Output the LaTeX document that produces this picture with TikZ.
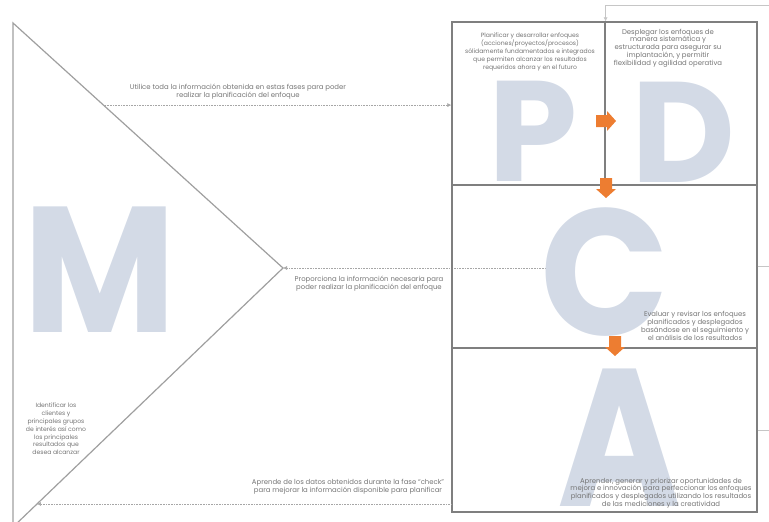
\documentclass[tikz,border=0pt]{standalone}
\usepackage{fontspec}
\setmainfont{Poppins}
\usetikzlibrary{arrows.meta, positioning, calc}

\definecolor{lettergray}{HTML}{D3DAE6}
\definecolor{pdcaorange}{HTML}{ED7D31}
\definecolor{framegray}{HTML}{7F7F7F}
\definecolor{textgray}{HTML}{747474}

\begin{document}
\begin{tikzpicture}[
    x=1pt, y=-1pt,
    stagebox/.style={rectangle, draw=framegray, line width=1.2pt, inner sep=0pt},
    bigletter/.style={text=lettergray, font=\fontsize{#1}{#1}\selectfont\bfseries, inner sep=0pt},
    note/.style={align=center, text=textgray, font=\fontsize{6.9}{7.8}\selectfont, inner sep=0pt},
    smallnote/.style={note, font=\fontsize{6.1}{7.8}\selectfont},
    flow/.style={densely dotted, draw=gray!70, line width=0.6pt, -{Latex[length=4pt, width=4pt]}},
    feed/.style={draw=gray!45, line width=0.6pt},
    orangearrow/.pic={\fill[pdcaorange] (-10,-6) -- (1,-6) -- (1,-10) -- (10,0) -- (1,10) -- (1,6) -- (-10,6) -- cycle;},
]
\clip (0,0) rectangle (769,522);

% ===== TRIANGLE (M) =====
\coordinate (tritop) at (13,23);
\coordinate (apex) at (283,268);
\coordinate (tribot) at (13,527);
\node[bigletter=179] (mletter) at (100,270) {\scalebox{0.93}[1]{M}};
\draw[draw=gray!75, line width=1.2pt] (tritop) -- (apex) -- (tribot) -- cycle;

% ===== PDCA LETTERS =====
\node[bigletter=143] (pletter) at (533,131) {P};
\node[bigletter=143] (dletter) at (683,132) {D};
\coordinate (chk) at (560,268);
\draw[flow] (chk) -- (apex);
\node[bigletter=180] (cletter) at (605,272) {\scalebox{0.94}[1]{C}};
\node[bigletter=196] (aletter) at (620,438) {\scalebox{0.86}[1]{A}};

% ===== BOXES =====
\node[stagebox, minimum width=153pt, minimum height=163pt] (plan) at (528.5,103.5) {};
\node[stagebox, minimum width=152pt, minimum height=163pt] (do) at (681,103.5) {};
\node[stagebox, minimum width=305pt, minimum height=163pt] (check) at (604.5,266.5) {};
\node[stagebox, minimum width=305pt, minimum height=164pt] (act) at (604.5,430) {};

% ===== CONNECTORS =====
\coordinate (tin) at ($(tritop)!0.335!(apex)$);
\coordinate (bout) at ($(tribot)!0.0888!(apex)$);
\coordinate (feedin) at (769,5);
\draw[flow] (tin) -- (tin -| plan.west);
\draw[flow] (bout -| act.west) -- (bout);
\draw[feed, -{Latex[length=4pt, width=4pt]}] (feedin) -| (plan.north east);
\draw[feed] (check.east) -- ++(12,0);
\draw[feed] (act.east) -- ++(12,0);

% ===== ORANGE ARROWS =====
\pic at (606,121) {orangearrow};
\pic[rotate=-90] at (606,188) {orangearrow};
\pic[rotate=-90] at (615,346) {orangearrow};

% ===== TEXTS =====
\node[note] (toplabel) at (238,92) {Utilice toda la información obtenida en estas fases para poder\\realizar la planificación del enfoque};
\node[note] (midlabel) at (369,284) {Proporciona la información necesaria para\\poder realizar la planificación del enfoque};
\node[note] (botlabel) at (348,487) {Aprende de los datos obtenidos durante la fase ``check''\\para mejorar la información disponible para planificar};
\node[smallnote] (plantext) at (530,52) {Planificar y desarrollar enfoques\\(acciones/proyectos/procesos)\\sólidamente fundamentados e integrados\\que permiten alcanzar los resultados\\requeridos ahora y en el futuro};
\node[note] (dotext) at (668,48) {Desplegar los enfoques de\\manera sistemática y\\estructurada para asegurar su\\implantación, y permitir\\flexibilidad y agilidad operativa};
\node[note] (checktext) at (695,326) {Evaluar y revisar los enfoques\\planificados y desplegados\\basándose en el seguimiento y\\el análisis de los resultados};
\node[note] (acttext) at (661,493) {Aprender, generar y priorizar oportunidades de\\mejora e innovación para perfeccionar los enfoques\\planificados y desplegados utilizando los resultados\\de las mediciones y la creatividad};
\node[smallnote] (mtext) at (56,429) {Identificar los\\clientes y\\principales grupos\\de interés así como\\los principales\\resultados que\\desea alcanzar};

\end{tikzpicture}
\end{document}
